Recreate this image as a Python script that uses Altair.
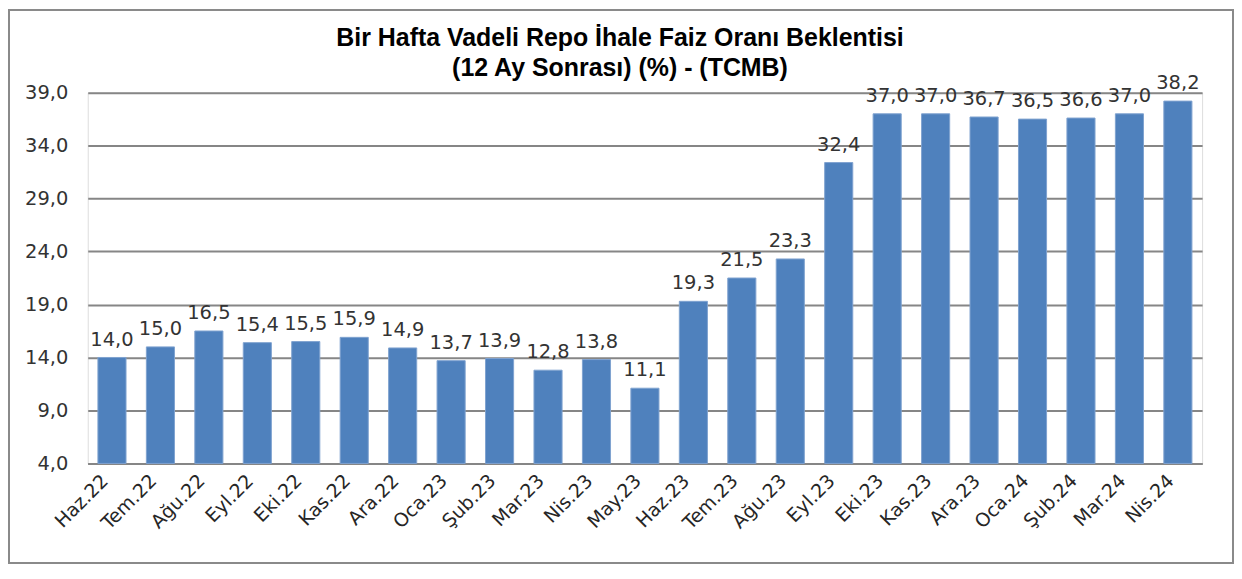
import altair as alt
import pandas as pd

months = ["Haz.22", "Tem.22", "Ağu.22", "Eyl.22", "Eki.22", "Kas.22", "Ara.22",
          "Oca.23", "Şub.23", "Mar.23", "Nis.23", "May.23", "Haz.23", "Tem.23",
          "Ağu.23", "Eyl.23", "Eki.23", "Kas.23", "Ara.23", "Oca.24", "Şub.24",
          "Mar.24", "Nis.24"]
values = [14.0, 15.0, 16.5, 15.4, 15.5, 15.9, 14.9, 13.7, 13.9, 12.8, 13.8, 11.1,
          19.3, 21.5, 23.3, 32.4, 37.0, 37.0, 36.7, 36.5, 36.6, 37.0, 38.2]
y_ticks = [4, 9, 14, 19, 24, 29, 34, 39]
title_lines = ["Bir Hafta Vadeli Repo İhale Faiz Oranı Beklentisi",
               "(12 Ay Sonrası) (%) - (TCMB)"]

df = pd.DataFrame({"ay": months, "deger": values})

W, H = 1118, 372
FONT = "DejaVu Sans"

x_enc = alt.X("ay:N", sort=months, title=None,
              scale=alt.Scale(paddingInner=0.42, paddingOuter=0.21),
              axis=alt.Axis(labelAngle=-45, labelAlign="right", labelBaseline="middle",
                            labelPadding=14, labelOffset=-7, ticks=False,
                            domainColor="#868686", domainWidth=2, labelFontSize=19,
                            labelColor="#262626", labelFont=FONT))
y_enc = alt.Y("deger:Q", title=None,
              scale=alt.Scale(domain=[4, 39], nice=False, zero=False),
              axis=alt.Axis(values=y_ticks, ticks=False, domain=False,
                            gridColor="#868686", gridWidth=2, labelPadding=20,
                            labelFontSize=19.5, labelColor="#333333", labelFont=FONT,
                            labelExpr="replace(format(datum.value, '.1f'), '.', ',')"))

base = alt.Chart(df)

bars = base.mark_bar(color="#4F81BD", stroke="#7FA3D0", strokeWidth=1).encode(
    x=x_enc, y=y_enc, y2=alt.datum(4))

labels = base.transform_calculate(
    lab="replace(format(datum.deger, '.1f'), '.', ',')"
).mark_text(baseline="bottom", dy=-8, fontSize=19.5, font=FONT, color="#333333").encode(
    x=alt.X("ay:N", sort=months),
    y=alt.Y("deger:Q"),
    text="lab:N")

frame = alt.Chart(pd.DataFrame({"a": [0]})).mark_rect(
    fill=None, stroke="#8a8a8a", strokeWidth=2).encode(
    x=alt.value(-79), x2=alt.value(W + 31),
    y=alt.value(-83), y2=alt.value(H + 100))

chart = alt.layer(bars, labels, frame).properties(
    width=W, height=H,
    title=alt.TitleParams(title_lines, fontSize=25, font="Liberation Sans",
                          fontWeight="bold", color="#000000", anchor="middle",
                          dx=-25, offset=18, dy=90, lineHeight=30),
    autosize=alt.AutoSizeParams(type="none"),
    padding={"left": 80, "top": 84, "right": 32, "bottom": 102},
).configure_view(stroke=None).configure(background="white")

chart.save("out.html", embed_options={"renderer": "svg", "actions": False})
